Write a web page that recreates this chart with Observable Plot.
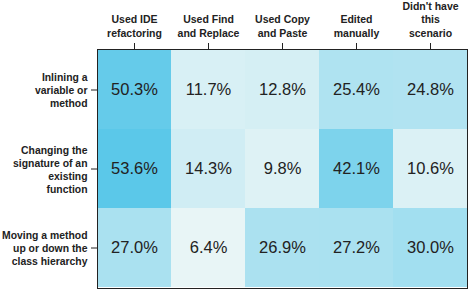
<!DOCTYPE html>
<html>
<head>
<meta charset="utf-8">
<script src="https://cdn.jsdelivr.net/npm/d3@7"></script>
<script src="https://cdn.jsdelivr.net/npm/@observablehq/plot@0.6"></script>
<style>
  html, body { margin: 0; padding: 0; background: #fff; }
  svg { display: block; }
</style>
</head>
<body>
<div id="chart"></div>
<script>
const columns = ["Used IDE\nrefactoring", "Used Find\nand Replace", "Used Copy\nand Paste", "Edited\nmanually", "Didn't have\nthis\nscenario"];
const rows = ["Inlining a\nvariable or\nmethod", "Changing the\nsignature of an\nexisting\nfunction", "Moving a method\nup or down the\nclass hierarchy"];
const inlining = [50.3, 11.7, 12.8, 25.4, 24.8];
const changingSignature = [53.6, 14.3, 9.8, 42.1, 10.6];
const movingMethod = [27.0, 6.4, 26.9, 27.2, 30.0];

const series = [inlining, changingSignature, movingMethod];
const data = [];
rows.forEach((r, i) => columns.forEach((c, j) => data.push({row: r, col: c, value: series[i][j]})));

const font = "'Liberation Sans', Arial, Helvetica, sans-serif";

const chart = Plot.plot({
  width: 470,
  height: 291,
  marginTop: 49,
  marginLeft: 97,
  marginRight: 3,
  marginBottom: 3,
  style: {fontFamily: font, color: "#222", background: "#fff"},
  x: {domain: columns, padding: 0, axis: null},
  y: {domain: rows, padding: 0, axis: null},
  color: {type: "linear", domain: [6.4, 53.6], range: ["#e8f5f6", "#5bc8e9"]},
  marks: [
    Plot.cell(data, {x: "col", y: "row", fill: "value", inset: 0}),
    Plot.text(data, {x: "col", y: "row", text: d => d.value.toFixed(1) + "%", fontSize: 16.5, fill: "#222"}),
    Plot.frame({stroke: "#222", strokeWidth: 1}),
    Plot.axisX({anchor: "top", tickSize: 7, tickPadding: 6, fontSize: 10.5, fontWeight: "bold", lineHeight: 1.24, stroke: "#222", fill: "#222", label: null}),
    Plot.axisY({anchor: "left", tickSize: 6, tickPadding: 4, fontSize: 10.4, fontWeight: "bold", lineHeight: 1.25, stroke: "#222", fill: "#222", label: null})
  ]
});
document.getElementById("chart").appendChild(chart);
</script>
</body>
</html>
